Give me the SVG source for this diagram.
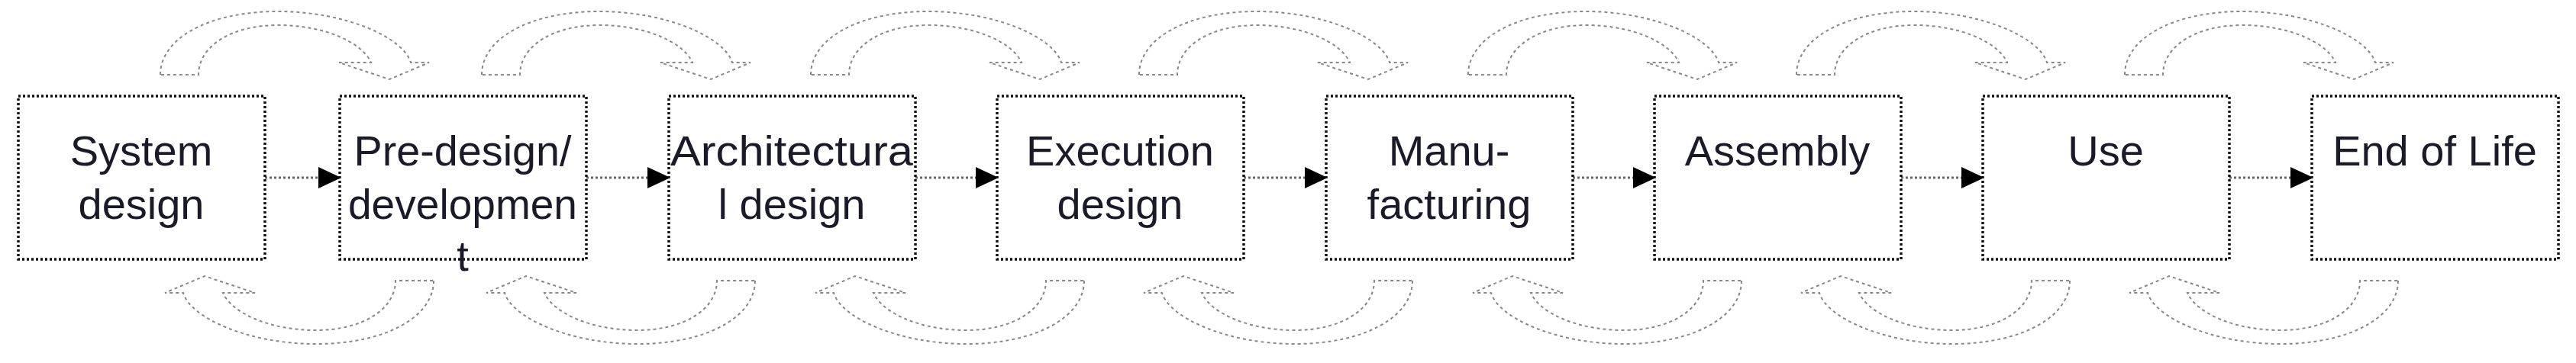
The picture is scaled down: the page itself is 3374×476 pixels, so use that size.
<svg xmlns="http://www.w3.org/2000/svg" width="3374" height="476" viewBox="0 0 3374 476">
<style>
.box{fill:#fff;stroke:#111;stroke-width:3.5;stroke-dasharray:3 3}
.t{font-family:"Liberation Sans",Arial,sans-serif;font-size:56px;fill:#1a1a28;text-anchor:middle}
.arc{fill:none;stroke:#888;stroke-width:2;stroke-dasharray:4 4}
.con{stroke:#666;stroke-width:3;stroke-dasharray:3 3;fill:none}
</style>
<defs>
<path id="arc" class="arc" d="M186,98 C186,50 250,15 340,15 C430,15 505,50 514,82 L538,82 L486,104 L420,82 L462,82 C450,55 400,33 340,33 C280,33 236,60 236,98 Z"/>
</defs>
<g id="connectors">
<line class="con" x1="347" y1="233" x2="445" y2="233"/>
<line class="con" x1="768" y1="233" x2="876" y2="233"/>
<line class="con" x1="1199" y1="233" x2="1306" y2="233"/>
<line class="con" x1="1629" y1="233" x2="1737" y2="233"/>
<line class="con" x1="2060" y1="233" x2="2167" y2="233"/>
<line class="con" x1="2490" y1="233" x2="2597" y2="233"/>
<line class="con" x1="2920" y1="233" x2="3028" y2="233"/>
<g fill="#000">
<path d="M417,219 L447,233 L417,247 Z"/>
<path d="M848,219 L878,233 L848,247 Z"/>
<path d="M1278,219 L1308,233 L1278,247 Z"/>
<path d="M1709,219 L1739,233 L1709,247 Z"/>
<path d="M2139,219 L2169,233 L2139,247 Z"/>
<path d="M2569,219 L2599,233 L2569,247 Z"/>
<path d="M3000,219 L3030,233 L3000,247 Z"/>
</g>
<use href="#arc" transform="translate(24,0)"/>
<use href="#arc" transform="translate(445,0)"/>
<use href="#arc" transform="translate(876,0)"/>
<use href="#arc" transform="translate(1306,0)"/>
<use href="#arc" transform="translate(1737,0)"/>
<use href="#arc" transform="translate(2167,0)"/>
<use href="#arc" transform="translate(2597,0)"/>
<use href="#arc" transform="translate(754,466) scale(-1,-1)"/>
<use href="#arc" transform="translate(1175,466) scale(-1,-1)"/>
<use href="#arc" transform="translate(1606,466) scale(-1,-1)"/>
<use href="#arc" transform="translate(2036,466) scale(-1,-1)"/>
<use href="#arc" transform="translate(2467,466) scale(-1,-1)"/>
<use href="#arc" transform="translate(2897,466) scale(-1,-1)"/>
<use href="#arc" transform="translate(3327,466) scale(-1,-1)"/>
</g>
<g id="n1"><rect class="box" x="24" y="126" width="323" height="214"/><text class="t" x="185" y="217">System</text><text class="t" x="185" y="287">design</text></g>
<g id="n2"><rect class="box" x="445" y="126" width="323" height="214"/><text class="t" x="606" y="217" textLength="285" lengthAdjust="spacingAndGlyphs">Pre-design/</text><text class="t" x="606" y="287" textLength="300" lengthAdjust="spacingAndGlyphs">developmen</text><text class="t" x="606" y="355">t</text></g>
<g id="n3"><rect class="box" x="876" y="126" width="323" height="214"/><text class="t" x="1037" y="217" textLength="318" lengthAdjust="spacingAndGlyphs">Architectura</text><text class="t" x="1037" y="287">l design</text></g>
<g id="n4"><rect class="box" x="1306" y="126" width="323" height="214"/><text class="t" x="1467" y="217">Execution</text><text class="t" x="1467" y="287">design</text></g>
<g id="n5"><rect class="box" x="1737" y="126" width="323" height="214"/><text class="t" x="1898" y="217">Manu-</text><text class="t" x="1898" y="287">facturing</text></g>
<g id="n6"><rect class="box" x="2167" y="126" width="323" height="214"/><text class="t" x="2328" y="217">Assembly</text></g>
<g id="n7"><rect class="box" x="2597" y="126" width="323" height="214"/><text class="t" x="2758" y="217">Use</text></g>
<g id="n8"><rect class="box" x="3028" y="126" width="323" height="214"/><text class="t" x="3189" y="217">End of Life</text></g>
</svg>
